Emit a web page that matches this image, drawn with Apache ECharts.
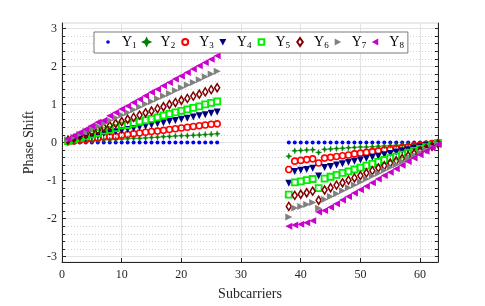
<!DOCTYPE html>
<html><head><meta charset="utf-8">
<script src="https://cdn.jsdelivr.net/npm/echarts@6/dist/echarts.min.js"></script>
<style>html,body{margin:0;padding:0;background:#fff}#c{width:485px;height:306px}</style>
</head><body><div id="c"></div>
<script>
// ---- data ----
const subcarriers = [1,2,3,4,5,6,7,8,9,10,11,12,13,14,15,16,17,18,19,20,21,22,23,24,25,26,
  38,39,40,41,42,43,44,45,46,47,48,49,50,51,52,53,54,55,56,57,58,59,60,61,62,63];
const seriesNames = ['Y1','Y2','Y3','Y4','Y5','Y6','Y7','Y8'];
const Y1 = [0,0,0,0,0,0,0,0,0,0,0,0,0,0,0,0,0,0,0,0,0,0,0,0,0,0,
  0,0,0,0,0,0,0,0,0,0,0,0,0,0,0,0,0,0,0,0,0,0,0,0,0,0];
const Y2 = [0.01,0.02,0.03,0.04,0.04,0.05,0.07,0.07,0.08,0.09,0.10,0.11,0.11,0.12,0.13,0.14,0.15,0.16,0.17,0.18,0.18,0.19,0.20,0.21,0.22,0.23,
  -0.36,-0.22,-0.21,-0.20,-0.19,-0.26,-0.18,-0.17,-0.16,-0.15,-0.14,-0.13,-0.12,-0.12,-0.11,-0.10,-0.09,-0.08,-0.07,-0.06,-0.05,-0.04,-0.03,-0.02,-0.01,0.00];
const Y3 = [0.02,0.04,0.06,0.08,0.10,0.11,0.15,0.15,0.16,0.19,0.21,0.23,0.25,0.27,0.29,0.30,0.32,0.34,0.36,0.38,0.40,0.42,0.44,0.46,0.48,0.49,
  -0.71,-0.49,-0.47,-0.45,-0.43,-0.54,-0.41,-0.39,-0.37,-0.35,-0.33,-0.30,-0.28,-0.26,-0.24,-0.22,-0.20,-0.18,-0.16,-0.14,-0.12,-0.09,-0.07,-0.05,-0.03,-0.01];
const Y4 = [0.03,0.06,0.09,0.12,0.15,0.18,0.23,0.26,0.28,0.31,0.34,0.37,0.40,0.43,0.46,0.49,0.52,0.55,0.58,0.61,0.64,0.67,0.70,0.73,0.77,0.80,
  -1.07,-0.76,-0.73,-0.71,-0.68,-0.88,-0.66,-0.63,-0.59,-0.56,-0.52,-0.49,-0.46,-0.42,-0.39,-0.36,-0.32,-0.29,-0.25,-0.22,-0.19,-0.15,-0.12,-0.08,-0.05,-0.02];
const Y5 = [0.04,0.08,0.12,0.17,0.21,0.25,0.31,0.33,0.38,0.45,0.46,0.50,0.54,0.58,0.62,0.66,0.71,0.75,0.79,0.83,0.87,0.91,0.95,1.00,1.04,1.08,
  -1.37,-1.05,-1.02,-0.99,-0.96,-1.20,-0.95,-0.90,-0.85,-0.80,-0.76,-0.71,-0.66,-0.61,-0.56,-0.51,-0.46,-0.41,-0.37,-0.32,-0.27,-0.22,-0.17,-0.12,-0.07,-0.02];
const Y6 = [0.06,0.11,0.17,0.22,0.28,0.33,0.40,0.44,0.50,0.55,0.61,0.66,0.72,0.78,0.83,0.89,0.94,1.00,1.05,1.11,1.16,1.22,1.27,1.33,1.39,1.44,
  -1.68,-1.39,-1.36,-1.32,-1.28,-1.52,-1.25,-1.19,-1.12,-1.06,-0.99,-0.93,-0.87,-0.80,-0.74,-0.67,-0.61,-0.54,-0.48,-0.42,-0.35,-0.29,-0.22,-0.16,-0.10,-0.03];
const Y7 = [0.07,0.14,0.22,0.29,0.36,0.43,0.50,0.58,0.65,0.72,0.79,0.86,0.93,1.01,1.08,1.15,1.22,1.29,1.37,1.44,1.51,1.58,1.65,1.73,1.80,1.87,
  -1.96,-1.72,-1.68,-1.63,-1.58,-1.73,-1.50,-1.42,-1.35,-1.27,-1.19,-1.12,-1.04,-0.96,-0.88,-0.81,-0.73,-0.65,-0.58,-0.50,-0.42,-0.35,-0.27,-0.19,-0.12,-0.04];
const Y8 = [0.09,0.18,0.26,0.35,0.44,0.53,0.58,0.70,0.79,0.88,0.96,1.05,1.14,1.23,1.32,1.40,1.49,1.58,1.67,1.75,1.84,1.93,2.02,2.10,2.19,2.28,
  -2.20,-2.17,-2.15,-2.11,-2.06,-1.83,-1.79,-1.70,-1.61,-1.51,-1.42,-1.33,-1.24,-1.15,-1.06,-0.96,-0.87,-0.78,-0.69,-0.60,-0.50,-0.41,-0.32,-0.23,-0.14,-0.05];
const xTicks = [0,10,20,30,40,50,60];
const yMajorTicks = [-3,-2,-1,0,1,2,3];
const yMinorTicks = [-2.8,-2.6,-2.4,-2.2,-1.8,-1.6,-1.4,-1.2,-0.8,-0.6,-0.4,-0.2,
  0.2,0.4,0.6,0.8,1.2,1.4,1.6,1.8,2.2,2.4,2.6,2.8];
const yAllTicks = yMajorTicks.concat(yMinorTicks);
const allY = [Y1,Y2,Y3,Y4,Y5,Y6,Y7,Y8];

// ---- styles ----
const STAR = 'path://M4 0L5 3L8 4L5 5L4 8L3 5L0 4L3 3Z';
const styles = [
  {symbol:'circle', size:4, rot:0, fill:'#0000ff', stroke:'#0000ff', bw:0},
  {symbol:STAR, size:6, rot:0, fill:'#007f00', stroke:'#007f00', bw:0.5},
  {symbol:'circle', size:6, rot:0, fill:'rgba(0,0,0,0)', stroke:'#ff0000', bw:1.6},
  {symbol:'triangle', size:7, rot:180, fill:'#000080', stroke:'#000080', bw:0},
  {symbol:'rect', size:6, rot:0, fill:'rgba(0,0,0,0)', stroke:'#00ee00', bw:1.8},
  {symbol:'diamond', size:[5,8], rot:0, fill:'rgba(0,0,0,0)', stroke:'#800000', bw:1.6},
  {symbol:'triangle', size:7, rot:-90, fill:'#808080', stroke:'#808080', bw:0},
  {symbol:'triangle', size:7, rot:90, fill:'#cc00cc', stroke:'#cc00cc', bw:0}
];
const legendIcons = [
  'path://M0 0M8 8M2.2 4a1.8 1.8 0 1 0 3.6 0a1.8 1.8 0 1 0 -3.6 0z',
  'path://M0 0M8 8M4 0.8L5 3L7.2 4L5 5L4 7.2L3 5L0.8 4L3 3Z',
  'path://M0 0M8 8M1 4a3 3 0 1 0 6 0a3 3 0 1 0 -6 0z',
  'path://M0 0M8 8M0.5 1L7.5 1L4 7.5Z',
  'path://M0 0M8 8M1.2 1.2L6.8 1.2L6.8 6.8L1.2 6.8Z',
  'path://M0 0M8 8M4 0L6.8 4L4 8L1.2 4Z',
  'path://M0 0M8 8M1 0.5L7.5 4L1 7.5Z',
  'path://M0 0M8 8M7 0.5L0.5 4L7 7.5Z'
];
const FONT = 'Liberation Serif';
const AX = '#262626';
const GRID = '#e3e3e3';

const series = seriesNames.map((name, k) => ({
  name: name,
  type: 'scatter',
  xAxisIndex: 0, yAxisIndex: 0,
  data: subcarriers.map((x, i) => [x, allY[k][i]]),
  symbol: styles[k].symbol,
  symbolSize: styles[k].size,
  symbolRotate: styles[k].rot,
  itemStyle: {color: styles[k].fill, borderColor: styles[k].stroke, borderWidth: styles[k].bw, opacity: 1},
  emphasis: {disabled: true},
  silent: true
}));

const legendData = seriesNames.map((name, k) => ({name: name, icon: legendIcons[k], symbolRotate: 0}));

const chart = echarts.init(document.getElementById('c'), null, {renderer: 'canvas'});
chart.setOption({
  animation: false,
  backgroundColor: '#fff',
  grid: {left: 62, right: 47, top: 23, bottom: 41, show: true, borderColor: '#d4d4d4', borderWidth: 1, containLabel: false},
  legend: {
    data: legendData,
    left: 94, top: 32,
    orient: 'horizontal',
    padding: [3, 4, 3, 10],
    itemGap: 5,
    itemWidth: 18, itemHeight: 8,
    symbolKeepAspect: true,
    symbolRotate: 0,
    backgroundColor: '#fff',
    borderColor: '#7a7a7a', borderWidth: 1, borderRadius: 0,
    selectedMode: false,
    formatter: n => '{a|Y}{b|' + n.slice(1) + '}',
    textStyle: {
      fontFamily: FONT, color: '#000',
      rich: {
        a: {fontFamily: FONT, fontSize: 14, color: '#000'},
        b: {fontFamily: FONT, fontSize: 9, color: '#000', padding: [7, 0, 0, 0]}
      }
    }
  },
  xAxis: [{
    type: 'value', min: 0, max: 63, position: 'bottom',
    axisLine: {show: true, onZero: false, lineStyle: {color: AX, width: 1}},
    axisTick: {show: true, inside: true, length: 4, customValues: xTicks, lineStyle: {color: AX}},
    axisLabel: {customValues: xTicks, margin: 7, fontFamily: FONT, fontSize: 12, color: AX},
    splitLine: {show: true, lineStyle: {color: GRID, width: 1}},
    name: 'Subcarriers', nameLocation: 'middle', nameGap: 25,
    nameTextStyle: {fontFamily: FONT, fontSize: 14, color: AX}
  }],
  yAxis: [{
    type: 'value', min: -Math.PI, max: Math.PI, position: 'left',
    axisLine: {show: true, onZero: false, lineStyle: {color: AX, width: 1}},
    axisTick: {show: true, inside: true, length: 4, customValues: yMajorTicks, lineStyle: {color: AX}},
    axisLabel: {customValues: yMajorTicks, margin: 5, fontFamily: FONT, fontSize: 12, color: AX},
    splitLine: {show: true, lineStyle: {color: GRID, width: 1}},
    name: 'Phase Shift', nameLocation: 'middle', nameGap: 18,
    nameTextStyle: {fontFamily: FONT, fontSize: 14, color: AX}
  }, {
    type: 'value', min: -Math.PI, max: Math.PI, position: 'left', offset: 0,
    axisLine: {show: false, onZero: false},
    axisTick: {show: true, inside: true, length: 3, customValues: yMinorTicks, lineStyle: {color: AX}},
    axisLabel: {show: false},
    splitLine: {show: true, lineStyle: {color: '#cfcfcf', width: 1, type: [1, 2]}}
  }, {
    type: 'value', min: -Math.PI, max: Math.PI, position: 'right', offset: 0,
    axisLine: {show: true, onZero: false, lineStyle: {color: AX, width: 1}},
    axisTick: {show: true, inside: true, length: 3, customValues: yAllTicks, lineStyle: {color: AX}},
    axisLabel: {show: false},
    splitLine: {show: false}
  }],
  series: series
});
</script></body></html>
